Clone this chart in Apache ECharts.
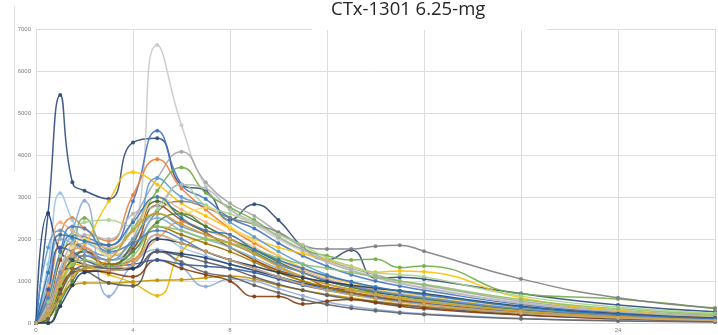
<!DOCTYPE html>
<html>
<head>
<meta charset="utf-8">
<script src="https://cdn.jsdelivr.net/npm/echarts@6/dist/echarts.min.js"></script>
<style>
  html, body { margin: 0; padding: 0; background: #fff; }
  #chart { width: 718px; height: 335px; }
</style>
</head>
<body>
<div id="chart"></div>
<script>
// Sampling times (hours post-dose)
const hours = [0, 0.5, 1, 1.5, 2, 3, 4, 5, 6, 7, 8, 9, 10, 11, 12, 13, 14, 15, 16, 20, 24, 28];

// Concentration profiles, one per subject
const subj01 = [0,2620,5430,3350,3150,2950,4300,4400,3290,3150,2450,2830,2450,1810,1500,1740,1070,1090,1050,700,430,270];
const subj02 = [0,150,800,1400,1700,1600,1900,6620,4710,3250,2700,2350,2000,1700,1450,1250,1100,950,850,480,280,160];
const subj03 = [0,300,1100,1700,1900,1650,2450,3450,4080,3350,2850,2550,2150,1800,1500,1300,1150,1000,900,520,300,180];
const subj04 = [0,500,1600,2100,2050,1850,2900,4580,3300,2950,2500,2250,1900,1600,1350,1150,1000,880,780,440,250,150];
const subj05 = [0,700,2100,2500,2250,1950,3050,3900,3200,2700,2250,1900,1600,1300,1100,950,820,720,640,380,220,130];
const subj06 = [0,0,800,1700,2500,1750,2250,3150,3700,3100,2750,2450,2050,1750,1600,1500,1520,1320,1360,690,570,340];
const subj07 = [0,200,900,1500,1850,2900,3590,3300,2850,2550,2250,2000,1800,1650,1500,1350,1210,1240,1220,600,300,150];
const subj08 = [0,300,1200,1600,1700,1500,1800,2650,2900,2750,2500,2350,2160,1850,1760,1760,1830,1850,1710,1050,600,360];
const subj09 = [0,1400,3090,2450,1950,1700,1500,2100,1800,1600,1400,1250,1100,950,800,700,600,520,450,250,130,70];
const subj10 = [0,600,1500,2200,2910,630,1400,1750,1350,870,1050,1000,820,650,500,400,320,260,220,110,60,30];
const subj11 = [0,300,900,1400,1350,1150,950,650,1700,2000,1800,1500,1250,1000,850,720,620,540,470,260,140,70];
const subj12 = [0,100,600,900,950,950,980,1020,1030,1080,1120,1050,900,780,680,600,520,450,400,230,120,60];
const subj13 = [0,200,1200,1300,1250,950,880,1700,1600,1450,1300,1100,920,780,660,570,500,430,370,200,100,50];
const subj14 = [0,300,1100,1500,1700,1350,1900,2900,2600,2300,2000,1750,1450,1200,1000,850,740,650,570,320,180,100];
const subj15 = [0,400,1500,1900,1750,1400,1750,2800,2450,2150,1800,1500,1250,1110,850,720,620,540,480,270,150,80];
const subj16 = [0,200,800,1200,1250,1200,1100,1500,1300,1150,1000,630,630,450,520,560,480,400,340,190,100,50];
const subj17 = [0,1800,2200,2000,1800,1600,2000,3450,3000,2800,2400,2050,1700,1400,1150,980,850,740,650,360,200,110];
const subj18 = [0,2600,1700,1500,1400,1300,1300,1700,1650,1550,1400,1250,1100,950,850,780,720,660,600,340,190,100];
const subj19 = [0,900,2400,2200,2000,1800,2200,3000,2700,2400,2100,1800,1500,1250,1050,900,780,680,600,340,190,100];
const subj20 = [0,500,1600,2100,2400,2450,2300,2700,3300,2800,2600,2350,2100,1850,1550,1350,1200,1150,1100,640,380,230];
const subj21 = [0,1000,2000,1900,1700,1500,1700,2500,2200,2000,1800,1550,1300,1100,930,800,700,610,540,300,160,80];
const subj22 = [0,300,1200,1800,2000,1600,2000,3000,2600,2750,2300,1950,1600,1300,1100,940,820,720,640,360,190,100];
const subj23 = [0,0,500,1000,1300,1350,1700,2400,2600,2300,2000,1700,1400,1200,1000,860,750,660,580,320,170,90];
const subj24 = [0,100,700,1300,1600,1400,1500,2300,2100,1900,1700,1450,1200,1000,850,730,640,560,490,270,140,70];
const subj25 = [0,800,1800,1700,1500,1350,1400,1500,1400,1350,1300,1200,1050,900,780,680,600,520,460,250,130,60];
const subj26 = [0,400,1300,1900,2100,2000,2600,2800,3300,3200,2700,2400,2050,1750,1450,1250,1080,940,830,470,270,160];
const subj27 = [0,200,1000,1700,1800,1300,1500,2000,2400,2200,2000,1650,1350,1100,920,780,670,580,500,280,150,80];
const subj28 = [0,100,700,1200,1350,1300,1300,1700,1450,1200,1100,900,720,560,440,350,290,240,200,100,50,25];
const subj29 = [0,300,1200,1600,1600,1500,2000,2600,2300,2100,1900,1650,1400,1200,1020,880,770,680,600,340,190,100];
const subj30 = [0,200,900,1400,1500,1350,1600,2300,2200,2000,1900,1750,1550,1400,1300,1200,1100,1000,920,560,340,200];
const subj31 = [0,600,1700,2300,2250,1700,1900,2200,2000,1700,1500,1300,1100,930,800,680,590,510,450,240,120,60];
const subj32 = [0,200,600,1100,1300,1500,2200,2600,2350,2100,1900,1650,1350,1100,930,800,690,600,520,280,150,70];
const subj33 = [0,0,400,900,1200,1250,1300,2000,1900,1700,1500,1350,1200,1080,980,900,830,770,700,400,220,120];
const subj34 = [0,1200,2100,2050,1950,1850,2400,3000,2500,2200,2100,1750,1500,1300,1120,980,860,760,680,380,210,110];
const subj35 = [0,300,1100,1600,1400,1250,1400,2100,1900,1700,1500,1300,1100,920,780,670,580,500,440,240,120,60];

const profiles = [subj01, subj02, subj03, subj04, subj05, subj06, subj07, subj08, subj09, subj10,
  subj11, subj12, subj13, subj14, subj15, subj16, subj17, subj18, subj19, subj20,
  subj21, subj22, subj23, subj24, subj25, subj26, subj27, subj28, subj29, subj30,
  subj31, subj32, subj33, subj34, subj35];

const lineColors = ['#2F4B7C','#C9C9C9','#A5A5A5','#4472C4','#ED7D31','#70AD47','#FFC000','#7F7F7F','#9DC3E6','#8FAADC',
  '#E8B400','#BF9000','#595959','#43682B','#9E480E','#843C0C','#5B9BD5','#264478','#F4B183','#A9D18E',
  '#7CAFDD','#FFD966','#548235','#997300','#335AA1','#B7B7B7','#F1975A','#636363','#698ED0','#8CC168',
  '#4A7EBB','#C9A227','#1F3864','#2E75B6','#D6A76B'];

// Hour ticks that carry a label
const labelledHours = [0, 4, 8, 24];

const chart = echarts.init(document.getElementById('chart'), null, { renderer: 'canvas' });

const series = profiles.map((vals, i) => ({
  name: 'Subject ' + String(i + 1).padStart(2, '0'),
  type: 'line',
  smooth: 0.5,
  symbol: 'circle',
  symbolSize: 4,
  data: hours.map((h, j) => [h, vals[j]]),
  lineStyle: { width: 1.5, color: lineColors[i], opacity: 0.9 },
  itemStyle: { color: lineColors[i], opacity: 0.9 },
  emphasis: { disabled: true }
}));

chart.setOption({
  animation: false,
  backgroundColor: '#fff',
  title: {
    text: 'CTx-1301 6.25-mg',
    left: 331,
    top: 0,
    padding: [0, 0, 0, 0],
    textStyle: { fontFamily: 'Open Sans', fontSize: 18.5, fontWeight: 'normal', color: '#262626' }
  },
  grid: { left: 36, right: -4, top: 29, bottom: 12, containLabel: false },
  xAxis: {
    type: 'value',
    min: 0,
    max: 28,
    interval: 4,
    axisLine: { show: true, lineStyle: { color: '#D9D9D9' } },
    axisTick: { show: false },
    axisLabel: {
      fontSize: 6,
      color: '#7F7F7F',
      margin: 4,
      formatter: v => labelledHours.includes(v) ? String(v) : ''
    },
    splitLine: { show: true, lineStyle: { color: '#DDDDDD', width: 1 } }
  },
  yAxis: {
    type: 'value',
    min: 0,
    max: 7000,
    interval: 1000,
    axisLine: { show: false },
    axisTick: { show: false },
    axisLabel: { fontSize: 6, color: '#7F7F7F', margin: 5, formatter: v => String(v) },
    splitLine: { show: true, lineStyle: { color: '#DDDDDD', width: 1 } }
  },
  graphic: [
    { type: 'rect', z: 100, shape: { x: 312, y: 26, width: 235, height: 4 }, style: { fill: '#fff' } },
    { type: 'line', z: 100, shape: { x1: 14.5, y1: 6, x2: 14.5, y2: 172 }, style: { stroke: '#E3E3E3', lineWidth: 1 } }
  ],
  series: series
});
</script>
</body>
</html>
